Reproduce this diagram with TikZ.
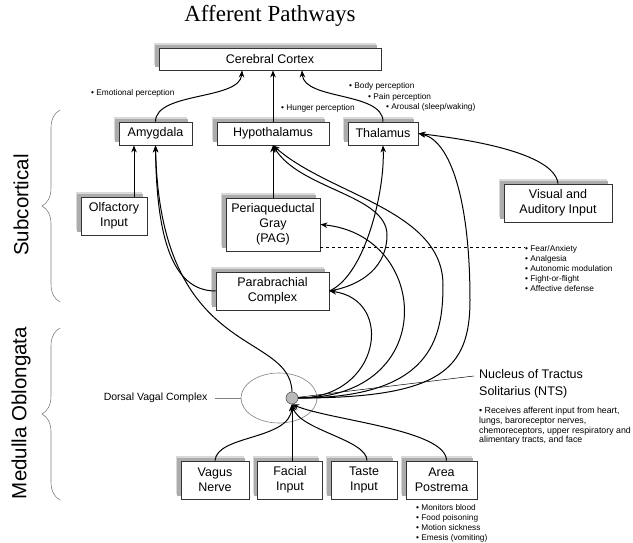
\documentclass[tikz,border=0pt]{standalone}
\usepackage{fontspec}
\setmainfont{Liberation Sans}
\newfontfamily\titlefont{Liberation Serif}
\usepackage{tikz}
\usetikzlibrary{shapes.geometric, arrows.meta, shadows, decorations.pathreplacing}

\begin{document}
\begin{tikzpicture}[x=1pt, y=-1pt]

\tikzstyle{box} = [rectangle, minimum height=23pt, inner sep=1pt, align=center, text centered, draw=black!80, line width=0.8pt, fill=white, font=\fontsize{12.5}{15}\selectfont, general shadow={fill=gray!30, shadow xshift=-5pt, shadow yshift=5pt}, general shadow={fill=gray!65, shadow xshift=-4pt, shadow yshift=3pt}]
\tikzstyle{note} = [anchor=west, inner sep=0pt, align=left, font=\fontsize{8.3}{10}\selectfont]
\tikzstyle{arrow} = [line width=1pt, ->, >={Stealth[length=7pt,width=5.5pt]}]
\tikzstyle{sidebrace} = [gray, line width=0.6pt, decorate, decoration={brace, amplitude=18pt}]
\tikzstyle{side} = [rotate=90, font=\fontsize{20.5}{23}\selectfont]

\useasboundingbox (0,0) rectangle (633,543);

% Nodes
\node (title) [font=\titlefont\fontsize{23}{26}\selectfont] at (270,16) {Afferent Pathways};
\node (cortex) [box, minimum width=222pt, minimum height=22pt] at (270,59) {Cerebral Cortex};
\node (amyg) [box, minimum width=73pt] at (155.5,133.5) {Amygdala};
\node (hypo) [box, minimum width=112pt] at (273,133.5) {Hypothalamus};
\node (thal) [box, minimum width=70pt] at (383,133.5) {Thalamus};
\node (olf) [box, minimum width=66pt, minimum height=38pt] at (114,216) {Olfactory\\Input};
\node (pag) [box, minimum width=94pt, minimum height=53pt] at (273,224.5) {Periaqueductal\\Gray\\(PAG)};
\node (para) [box, minimum width=113pt, minimum height=38pt] at (272.5,291) {Parabrachial\\Complex};
\node (visaud) [box, minimum width=108pt, minimum height=38pt] at (558,203) {Visual and\\Auditory Input};
\node (vagus) [box, minimum width=68pt, minimum height=38pt] at (215,480) {Vagus\\Nerve};
\node (facial) [box, minimum width=65pt, minimum height=38pt] at (290,480) {Facial\\Input};
\node (taste) [box, minimum width=66pt, minimum height=38pt] at (364,480) {Taste\\Input};
\node (area) [box, minimum width=71pt, minimum height=38pt] at (441.5,480) {Area\\Postrema};

\node (dvc) [ellipse, draw=gray, line width=0.6pt, minimum width=76pt, minimum height=50pt] at (279,398) {};
\node (nts) [circle, fill=gray!55, draw=gray!70!black, line width=0.6pt, minimum size=12pt, inner sep=0pt] at (292,398) {};
\node (dvclabel) [anchor=east, font=\fontsize{10.5}{12}\selectfont] at (211,398) {Dorsal Vagal Complex};
\node (ntslabel) [anchor=west, align=left, inner sep=0pt, font=\fontsize{12.5}{17}\selectfont] at (479,383.5) {Nucleus of Tractus\\Solitarius (NTS)};
\node (ntsnote) [note, font=\fontsize{8.8}{9.6}\selectfont] at (479,426) {• Receives afferent input from heart,\\lungs, baroreceptor nerves,\\chemoreceptors, upper respiratory and\\alimentary tracts, and face};

\node (emotion) [note] at (91,93) {• Emotional perception};
\node (hunger) [note] at (281,108) {• Hunger perception};
\node (body) [note] at (349,86.5) {• Body perception};
\node (pain) [note] at (368,97) {• Pain perception};
\node (arousal) [note] at (386,107) {• Arousal (sleep/waking)};
\node (paglist) [note] at (525,268.5) {• Fear/Anxiety\\• Analgesia\\• Autonomic modulation\\• Fight-or-flight\\• Affective defense};
\node (arealist) [note] at (416,523) {• Monitors blood\\• Food poisoning\\• Motion sickness\\• Emesis (vomiting)};

\node (subcort) [side] at (21,205) {Subcortical};
\node (medulla) [side] at (21,413) {Medulla Oblongata};
\draw [sidebrace] (60,302) -- (60,110);
\draw [sidebrace] (60,500) -- (60,328);

% Arrows
\draw [arrow] (amyg.north) .. controls +(0,-30) and +(-2,30) .. ([xshift=-28pt]cortex.south);
\draw [arrow] (hypo.north) -- (cortex.south -| hypo.north);
\draw [arrow] (thal.north) .. controls +(0,-30) and +(2,30) .. ([xshift=32pt]cortex.south);
\draw [arrow] ([xshift=20pt]olf.north) -- ([xshift=20pt]olf.north |- amyg.south);
\draw [arrow] (pag.north) -- (hypo.south);
\draw [arrow] (para.west) .. controls +(-46,0) and +(1,85) .. (amyg.south);
\draw [arrow] (nts.north) .. controls +(-2,-62) and +(4.5,215) .. (amyg.south);
\draw [arrow] (para.east) .. controls +(35,-6) and +(0,30) .. (387,235) .. controls +(0,-40) and +(27,44) .. (hypo.south);
\draw [arrow] (para.east) .. controls +(36,-16) and +(2,45) .. (thal.south);
\draw [arrow] (nts.east) .. controls +(82,0) and +(66,9) .. (para.east);
\draw [arrow] (nts.east) .. controls +(142,0) and +(110,11) .. (pag.east);
\draw [arrow] (nts.east) .. controls +(132,0) and +(0,55) .. (443,285) .. controls +(0,-75) and +(57,50) .. (hypo.south);
\draw [arrow] (nts.east) .. controls +(142,0) and +(0,70) .. (470,300) .. controls +(0,-100) and +(32,7) .. (thal.east);
\draw [arrow] (visaud.north) .. controls +(-2,-19) and +(102,12) .. (thal.east);
\draw [arrow] (vagus.north) .. controls +(2,-26) and +(-2,36) .. (nts.south);
\draw [arrow] (facial.north -| nts.south) -- (nts.south);
\draw [arrow] ([xshift=3pt]taste.north) .. controls +(0,-21) and +(8,26) .. (nts.south);
\draw [arrow] ([xshift=5pt]area.north) .. controls +(0,-31) and +(38,16) .. (nts.south);

\coordinate (dash) at ([yshift=4pt]pag.south east);
\draw [dashed, line width=0.9pt] (dash) -- (dash -| paglist.west);
\draw [gray, line width=0.6pt] ([xshift=4pt]dvclabel.east) -- (dvc.west);
\draw [line width=0.5pt] (nts) -- ([xshift=-5pt,yshift=-7pt]ntslabel.north west);

\end{tikzpicture}
\end{document}
